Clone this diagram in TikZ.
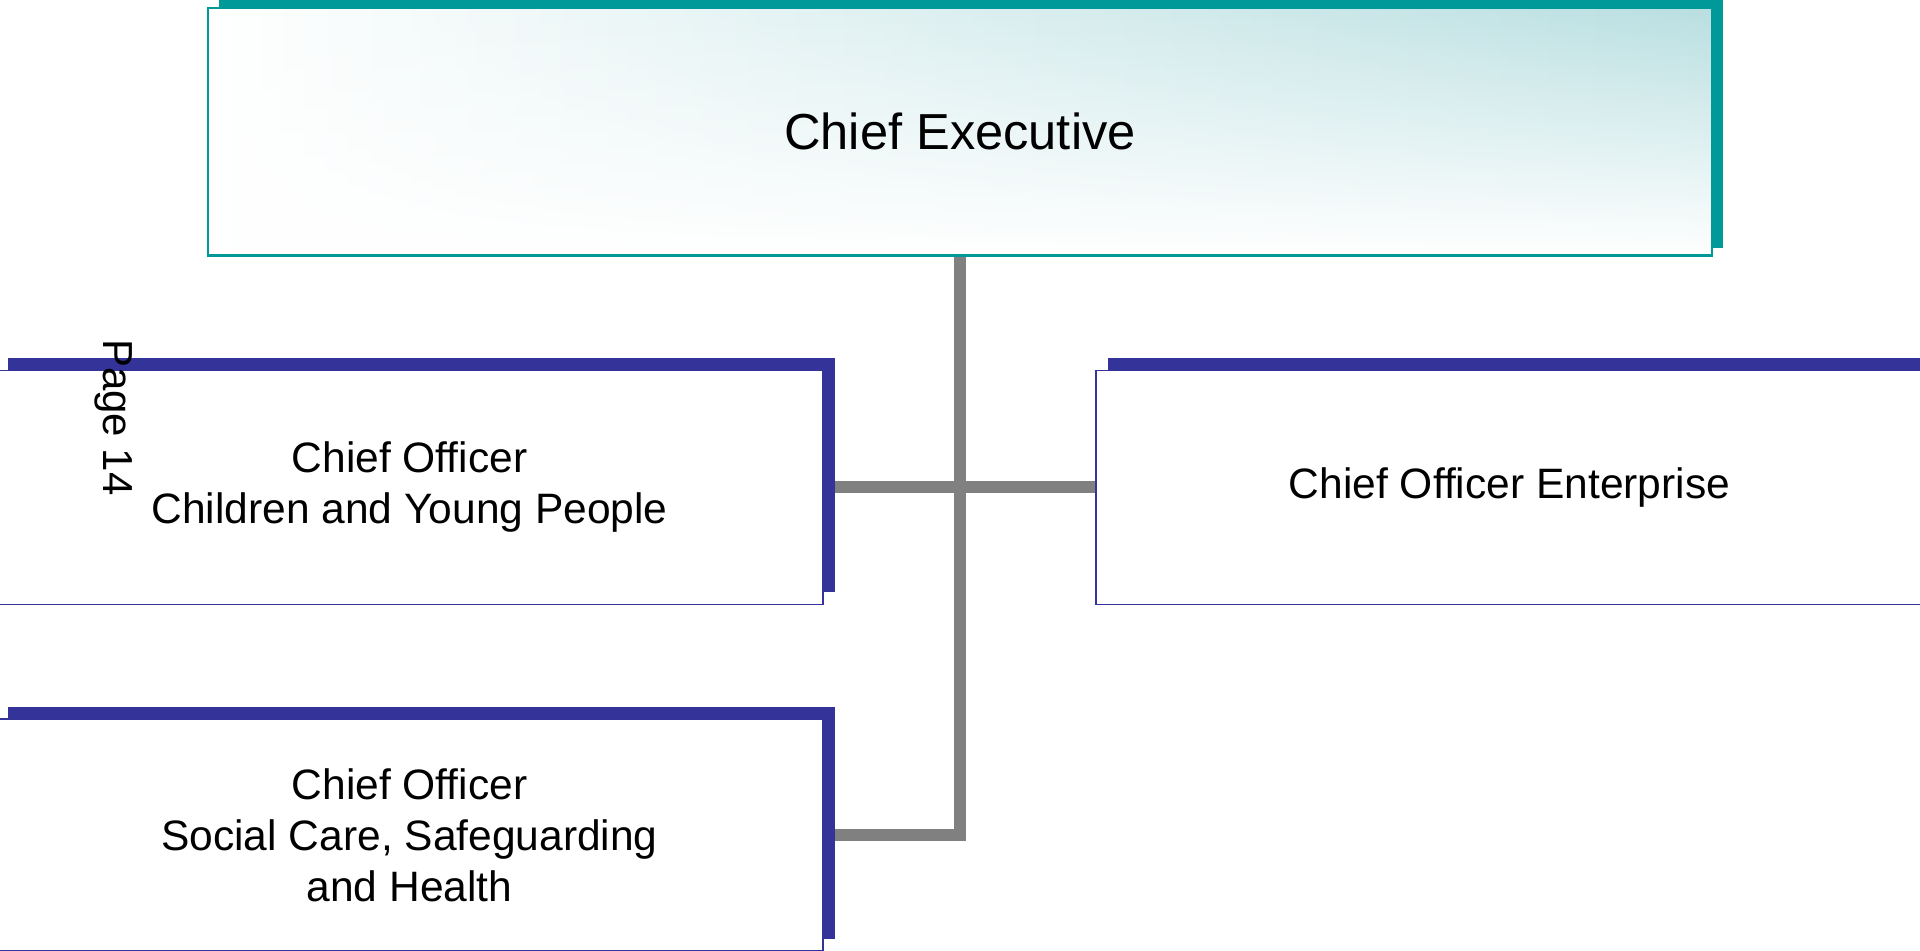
\documentclass[tikz,border=0pt]{standalone}
\usepackage{fontspec}
\setmainfont{Liberation Sans}
\usetikzlibrary{positioning,shadows,fadings,backgrounds}

\definecolor{ceTeal}{HTML}{009999}
\definecolor{ceTealLight}{HTML}{B9DFE1}
\definecolor{offBlue}{HTML}{333399}
\definecolor{linkGray}{HTML}{808080}

\begin{document}
\begin{tikzpicture}[node distance=1.13cm]
		\tikzstyle{chief} = [rectangle, minimum width=15.04cm, minimum height=2.475cm, 
		text centered, draw=ceTeal, line width=0.6pt, 
		left color=white, middle color=ceTealLight!60!white, right color=ceTealLight, 
		font=\fontsize{14.4}{17}\selectfont, 
		drop shadow={shadow xshift=0.11cm, shadow yshift=0.075cm, fill=ceTeal, opacity=1}, 
		postaction={fill=white, path fading=north}, postaction={draw=ceTeal, line width=0.6pt}]
		\tikzstyle{officer} = [rectangle, minimum width=8.27cm, minimum height=2.34cm, 
		text centered, align=center, draw=offBlue, line width=0.5pt, fill=white, 
		font=\fontsize{12.1}{14.5}\selectfont, 
		drop shadow={shadow xshift=0.12cm, shadow yshift=0.12cm, fill=offBlue, opacity=1}]
		\tikzstyle{connector} = [linkGray, line width=0.12cm]
		\useasboundingbox (0,0) rectangle (19.2,-9.51);
		\node (chiefExec) [chief] at (9.6,-1.3175) {Chief Executive};
		\node (childrenOfficer) [officer, below=of chiefExec, xshift=-5.505cm] {Chief Officer\\Children and Young People};
		\node (enterpriseOfficer) [officer, below=of chiefExec, xshift=5.495cm] {Chief Officer Enterprise};
		\node (socialOfficer) [officer, minimum height=2.32cm, below=of childrenOfficer] {Chief Officer\\Social Care, Safeguarding\\and Health};
		\node (pageMark) [rotate=-90, font=\fontsize{11.95}{14}\selectfont] at (1.14,-4.175) {Page 14};
		\begin{scope}[on background layer]
		\draw [connector] (childrenOfficer) -- (enterpriseOfficer);
		\draw [connector] (chiefExec) |- (socialOfficer);
		\end{scope}
		\end{tikzpicture}
\end{document}
